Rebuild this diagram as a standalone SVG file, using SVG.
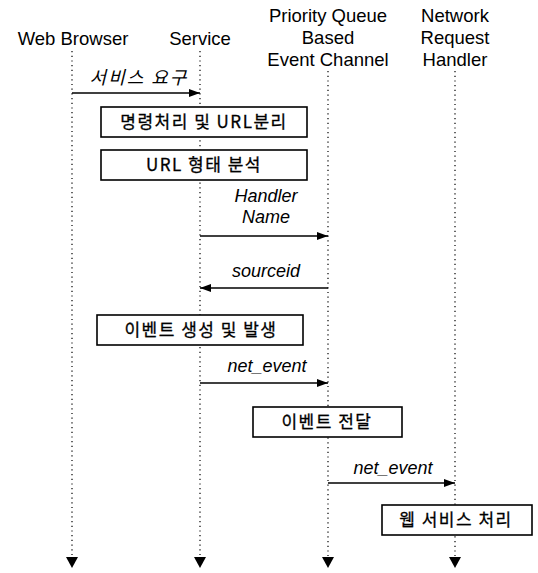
<svg xmlns="http://www.w3.org/2000/svg" width="538" height="573" viewBox="0 0 538 573">
<style>
.hdr{font-family:"Liberation Sans",Arial,sans-serif;font-size:18.5px;fill:#000;text-anchor:middle}
.lbl{font-family:"Liberation Sans","Noto Sans CJK KR",sans-serif;font-size:18px;font-style:italic;fill:#000;text-anchor:middle}
.klbl{font-family:"Noto Sans CJK KR",sans-serif;font-size:18px;font-style:italic;fill:#000;text-anchor:middle;letter-spacing:2px}
.box{fill:#fff;stroke:#000;stroke-width:1.6}
.btxt{font-family:"Noto Sans CJK KR",sans-serif;font-size:17px;font-weight:400;fill:#000;text-anchor:middle;letter-spacing:1.5px;stroke:#000;stroke-width:0.3}
.life{stroke:#000;stroke-width:1.2;stroke-dasharray:1.2 3.5;fill:none}
.msg{stroke:#000;stroke-width:1.6;fill:none}
</style>
<defs>
<marker id="ah" viewBox="0 0 11 8" refX="11" refY="4" markerWidth="11" markerHeight="8" markerUnits="userSpaceOnUse" orient="auto">
<path d="M0,0 L11,4 L0,8 Z" fill="#000"/>
</marker>
</defs>

<g id="header-web-browser"><text class="hdr" x="73" y="45">Web Browser</text></g>
<g id="header-service"><text class="hdr" x="200" y="45">Service</text></g>
<g id="header-event-channel">
<text class="hdr" x="328" y="22">Priority Queue</text>
<text class="hdr" x="328" y="44">Based</text>
<text class="hdr" x="328" y="66">Event Channel</text>
</g>
<g id="header-network-handler">
<text class="hdr" x="455" y="22">Network</text>
<text class="hdr" x="455" y="44">Request</text>
<text class="hdr" x="455" y="66">Handler</text>
</g>

<g id="lifelines">
<line class="life" x1="72" y1="51" x2="72" y2="556"/>
<line class="life" x1="200" y1="51" x2="200" y2="556"/>
<line class="life" x1="328" y1="71" x2="328" y2="556"/>
<line class="life" x1="455" y1="71" x2="455" y2="556"/>
<path d="M66,557 L78,557 L72,568 Z" fill="#000"/>
<path d="M194,557 L206,557 L200,568 Z" fill="#000"/>
<path d="M322,557 L334,557 L328,568 Z" fill="#000"/>
<path d="M449,557 L461,557 L455,568 Z" fill="#000"/>
</g>

<g id="connectors">
<line class="msg" x1="72" y1="93" x2="200" y2="93" marker-end="url(#ah)"/>
<line class="msg" x1="200" y1="236" x2="328" y2="236" marker-end="url(#ah)"/>
<line class="msg" x1="328" y1="288" x2="200" y2="288" marker-end="url(#ah)"/>
<line class="msg" x1="200" y1="383" x2="328" y2="383" marker-end="url(#ah)"/>
<line class="msg" x1="328" y1="483" x2="455" y2="483" marker-end="url(#ah)"/>
<text class="klbl" x="139" y="84">서비스 요구</text>
<text class="lbl" x="266" y="202">Handler</text>
<text class="lbl" x="266" y="223">Name</text>
<text class="lbl" x="266" y="277">sourceid</text>
<text class="lbl" x="267" y="372">net_event</text>
<text class="lbl" x="393" y="474">net_event</text>
</g>

<g id="box-command">
<rect class="box" x="101" y="107" width="206" height="30"/>
<text class="btxt" x="204" y="128">명령처리 및 URL분리</text>
</g>
<g id="box-url">
<rect class="box" x="101" y="150" width="206" height="30"/>
<text class="btxt" x="204" y="171">URL 형태 분석</text>
</g>
<g id="box-event-create">
<rect class="box" x="97" y="315" width="206" height="30"/>
<text class="btxt" x="201" y="336">이벤트 생성 및 발생</text>
</g>
<g id="box-event-deliver">
<rect class="box" x="253" y="407" width="149" height="30"/>
<text class="btxt" x="327" y="428">이벤트 전달</text>
</g>
<g id="box-web-service">
<rect class="box" x="382" y="505" width="150" height="30"/>
<text class="btxt" x="456" y="526">웹 서비스 처리</text>
</g>
</svg>
